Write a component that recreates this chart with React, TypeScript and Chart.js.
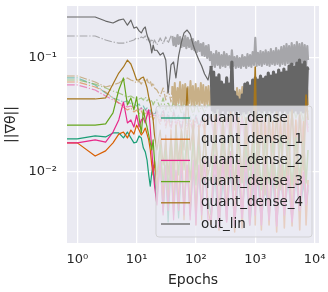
import React, { useEffect, useRef } from 'react';
import { Chart, registerables } from 'chart.js';

Chart.register(...registerables);

// ---------- epochs (x values) ----------
const EPOCHS_EARLY = [0, 1, 2, 3, 4, 5, 6, 7, 8, 9, 10, 11, 12, 13, 14, 15, 16, 17, 18, 19, 20];
const EPOCHS_MID = [22, 25, 28, 31, 34, 38, 42, 46, 51, 57, 63, 71, 80, 90, 100, 112, 125, 140, 160];
const EPOCHS_MID_HEAD = [22, 25, 28, 31, 34, 38];
const EPOCHS_MID_DENSE = [40, 42, 44, 46, 49, 51, 54, 57, 60, 63, 66, 69, 73, 77, 81, 85, 89, 94, 99, 104, 109, 115, 121, 127, 133, 140, 148, 155, 163, 172];
const EPOCHS_DENSE = [
  180, 189, 199, 209, 220, 232, 244, 256, 270, 284, 298, 314, 330, 347, 365, 384, 404, 425, 447, 470,
  494, 520, 547, 575, 605, 636, 669, 704, 740, 779, 819, 861, 906, 953, 1002, 1054, 1109, 1166, 1227, 1290,
  1357, 1427, 1501, 1579, 1661, 1747, 1837, 1932, 2032, 2137, 2248, 2365, 2487, 2616, 2751, 2894, 3044, 3201, 3367, 3542,
  3725, 3918, 4121, 4335, 4559, 4795, 5044, 5305, 5580, 5869, 6173, 6493, 6829, 7183, 7555, 7770,
];
const EPOCHS_SPARSE = [
  180, 210, 245, 285, 330, 385, 450, 520, 600, 700, 810, 940, 1000, 1090, 1270, 1470, 1710, 1980, 2300, 2670,
  3100, 3600, 4180, 4850, 5630, 6540, 7200, 7770,
];

// ---------- tick values ----------
const X_TICKS = [1, 10, 100, 1000, 10000];
const Y_TICKS = [0.01, 0.1];

// ---------- series names / colours ----------
const SERIES_NAMES = ['quant_dense', 'quant_dense_1', 'quant_dense_2', 'quant_dense_3', 'quant_dense_4', 'out_lin'];
const SERIES_COLORS = ['#1b9e77', '#d95f02', '#e7298a', '#66a61e', '#a6761d', '#666666'];
const SERIES_COLORS_DD = [
  'rgba(27,158,119,0.5)', 'rgba(217,95,2,0.5)', 'rgba(231,41,138,0.5)',
  'rgba(102,166,30,0.5)', 'rgba(166,118,29,0.5)', 'rgba(102,102,102,0.5)',
];
// the same half-transparent colours, flattened onto the axes background (used where the noise is dense)
const SERIES_COLORS_DD_FLAT = ['#83c4b4', '#e0a57a', '#e98ebe', '#a8c888', '#c8b088', '#a6a6aa'];

// ---------- out_lin (solid) ----------
const OUT_LIN_EARLY = [0.229, 0.229, 0.229, 0.211, 0.203, 0.215, 0.220, 0.194, 0.215, 0.183, 0.187, 0.173, 0.166, 0.180, 0.187, 0.159, 0.144, 0.133, 0.111, 0.130, 0.117];
const OUT_LIN_MID = [0.117, 0.106, 0.111, 0.096, 0.0493, 0.087, 0.0922, 0.0668, 0.104, 0.138, 0.166, 0.176, 0.162, 0.130, 0.111, 0.096, 0.0851, 0.0724, 0.0641];
const OUT_LIN_DENSE = [
  0.0851, 0.0350, 0.0754, 0.0336, 0.0668, 0.0364, 0.0710, 0.0330, 0.0616, 0.0350,
  0.0580, 0.0323, 0.0668, 0.0350, 0.0591, 0.0336, 0.0922, 0.0350, 0.0503, 0.0330,
  0.0455, 0.0350, 0.0428, 0.0323, 0.0473, 0.0343, 0.0591, 0.0330, 0.0604, 0.0350,
  0.0568, 0.0336, 0.0641, 0.0350, 0.0668, 0.0330, 0.0641, 0.0350, 0.0695, 0.0336,
  0.0654, 0.0350, 0.0681, 0.0330, 0.0738, 0.0350, 0.0695, 0.0336, 0.0754, 0.0350,
  0.0710, 0.0330, 0.0785, 0.0350, 0.0738, 0.0336, 0.0801, 0.0350, 0.0754, 0.0330,
  0.0851, 0.0350, 0.0886, 0.0336, 0.0834, 0.0350, 0.0900, 0.0330, 0.0960, 0.0350,
  0.0870, 0.0336, 0.0922, 0.0350, 0.0820, 0.0785,
];

// ---------- out_lin (dash-dot) ----------
const OUT_LIN_DD_EARLY = [0.156, 0.156, 0.156, 0.144, 0.138, 0.135, 0.135, 0.138, 0.141, 0.144, 0.150, 0.147, 0.153, 0.150, 0.156, 0.144, 0.150, 0.138, 0.147, 0.135, 0.144];
const OUT_LIN_DD_HEAD = [0.130, 0.150, 0.133, 0.153, 0.135, 0.156];
const OUT_LIN_DD_MID = [
  0.156, 0.130, 0.150, 0.1274, 0.159, 0.1327, 0.1528, 0.1249, 0.1467, 0.1274,
  0.156, 0.122, 0.150, 0.1249, 0.144, 0.1199, 0.1467, 0.117, 0.138, 0.1129,
  0.141, 0.1152, 0.1327, 0.106, 0.1354, 0.1041, 0.1274, 0.100, 0.130, 0.096,
];
const OUT_LIN_DD_DENSE = [
  0.1129, 0.0851, 0.1084, 0.0834, 0.1152, 0.0870, 0.1110, 0.0820, 0.1060, 0.0851,
  0.1129, 0.0834, 0.1084, 0.0870, 0.1041, 0.0820, 0.1170, 0.0851, 0.1020, 0.0820,
  0.1041, 0.0834, 0.1000, 0.0820, 0.1060, 0.0851, 0.1020, 0.0820, 0.1084, 0.0851,
  0.1060, 0.0834, 0.1129, 0.0870, 0.1500, 0.0851, 0.1110, 0.0870, 0.1152, 0.0851,
  0.1129, 0.0886, 0.1170, 0.0870, 0.1129, 0.0851, 0.1199, 0.0886, 0.1152, 0.0870,
  0.1220, 0.0886, 0.1170, 0.0851, 0.1249, 0.0886, 0.1274, 0.0870, 0.1327, 0.0900,
  0.1274, 0.0851, 0.1354, 0.0886, 0.1300, 0.0870, 0.1380, 0.0900, 0.1327, 0.0851,
  0.1354, 0.0886, 0.1300, 0.0851, 0.1274, 0.0960,
];

// ---------- quant_dense_4 (dash-dot) ----------
const QD4_DD_EARLY = [0.0695, 0.0695, 0.0616, 0.0557, 0.0580, 0.0604, 0.0641, 0.0668, 0.0641, 0.0628, 0.0604, 0.0628, 0.0591, 0.0641, 0.0616, 0.0654, 0.0591, 0.0628, 0.0568, 0.0604, 0.0546];
const QD4_DD_HEAD = [0.0524, 0.0464, 0.0546, 0.0428, 0.0535, 0.0411];
const QD4_DD_MID = [
  0.0568, 0.0395, 0.0604, 0.0379, 0.0546, 0.0403, 0.0616, 0.0372, 0.0580, 0.0395,
  0.0591, 0.0379, 0.0557, 0.0403, 0.0628, 0.0387, 0.0568, 0.0372, 0.0591, 0.0395,
  0.0546, 0.0379, 0.0604, 0.0403, 0.0580, 0.0372, 0.0557, 0.0395, 0.0568, 0.0387,
];
const QD4_DD_DENSE = [
  0.0524, 0.0387, 0.0546, 0.0372, 0.0503, 0.0395, 0.0535, 0.0364, 0.0557, 0.0379,
  0.0513, 0.0403, 0.0524, 0.0372, 0.0568, 0.0387, 0.0535, 0.0364, 0.0503, 0.0395,
  0.0546, 0.0379, 0.0524, 0.0372, 0.0557, 0.0387, 0.0513, 0.0403, 0.0535, 0.0364,
  0.0546, 0.0379, 0.0524, 0.0395, 0.0568, 0.0372, 0.0503, 0.0387, 0.0535, 0.0379,
  0.0557, 0.0364, 0.0524, 0.0395, 0.0546, 0.0372, 0.0513, 0.0387, 0.0535, 0.0403,
  0.0557, 0.0379, 0.0524, 0.0364, 0.0546, 0.0372, 0.0568, 0.0395, 0.0535, 0.0379,
  0.0513, 0.0387, 0.0546, 0.0364, 0.0524, 0.0379, 0.0557, 0.0395, 0.0535, 0.0372,
  0.0546, 0.0387, 0.0568, 0.0379, 0.0524, 0.0387,
];

// ---------- quant_dense (solid) ----------
const QD0_EARLY = [0.0195, 0.0195, 0.0207, 0.0203, 0.0220, 0.0220, 0.0199, 0.0224, 0.0199, 0.0180, 0.0183, 0.0207, 0.0199, 0.0162, 0.0150, 0.0127, 0.0094, 0.0075, 0.0098, 0.0115, 0.0085];
const QD0_MID = [0.0057, 0.0122, 0.00446, 0.0104, 0.00364, 0.0115, 0.0046, 0.0100, 0.00395, 0.0108, 0.00514, 0.0115, 0.0042, 0.0104, 0.00514, 0.0094, 0.0046, 0.00886, 0.0057];
const QD0_LATE = [0.0042, 0.0094, 0.00343, 0.0085, 0.0046, 0.0104, 0.0038, 0.00886, 0.00446, 0.0100, 0.00343, 0.0085, 0.00514, 0.0094, 0.0038, 0.00817, 0.0042, 0.00886, 0.00364, 0.0094, 0.0046, 0.0085, 0.00395, 0.00922, 0.00446, 0.00817, 0.00514, 0.0070];

// ---------- quant_dense_1 (solid) ----------
const QD1_EARLY = [0.0180, 0.0180, 0.0138, 0.0153, 0.0180, 0.0215, 0.0224, 0.0199, 0.0233, 0.0215, 0.0258, 0.0233, 0.0211, 0.0224, 0.0243, 0.0215, 0.0191, 0.0156, 0.0115, 0.0094, 0.0127];
const QD1_MID = [0.0070, 0.0191, 0.0057, 0.0211, 0.00514, 0.0233, 0.0042, 0.0258, 0.0046, 0.0211, 0.0038, 0.0233, 0.0042, 0.0286, 0.00343, 0.0258, 0.0038, 0.0298, 0.0046];
const QD1_LATE = [0.00343, 0.0316, 0.0031, 0.0286, 0.0038, 0.0336, 0.00298, 0.0298, 0.00323, 0.0258, 0.00364, 0.0316, 0.00343, 0.0286, 0.0031, 0.0304, 0.00343, 0.0275, 0.00298, 0.0298, 0.00323, 0.0316, 0.00336, 0.0286, 0.0031, 0.0275, 0.00343, 0.0085];

// ---------- quant_dense_2 (solid) ----------
const QD2_EARLY = [0.0180, 0.0180, 0.0191, 0.0183, 0.0224, 0.0286, 0.0411, 0.0269, 0.0286, 0.0248, 0.0316, 0.0248, 0.0286, 0.0298, 0.0269, 0.0316, 0.0350, 0.0243, 0.0156, 0.0104, 0.00769];
const QD2_MID = [0.00514, 0.0127, 0.0042, 0.0115, 0.0046, 0.0127, 0.0038, 0.0104, 0.0046, 0.0127, 0.0042, 0.0115, 0.0038, 0.0127, 0.00343, 0.0115, 0.0042, 0.0127, 0.0038];
const QD2_LATE = [0.0038, 0.0141, 0.00323, 0.0133, 0.00364, 0.0150, 0.00336, 0.0127, 0.00395, 0.0141, 0.00343, 0.0127, 0.0042, 0.0141, 0.00343, 0.0133, 0.0038, 0.0122, 0.00336, 0.0115, 0.0042, 0.0104, 0.00364, 0.0108, 0.0046, 0.0100, 0.00514, 0.00769];

// ---------- quant_dense_3 (solid) ----------
const QD3_EARLY = [0.0258, 0.0258, 0.0258, 0.0264, 0.0330, 0.0524, 0.0668, 0.0387, 0.0446, 0.0350, 0.0455, 0.0298, 0.0220, 0.0350, 0.0286, 0.0248, 0.0211, 0.0180, 0.0156, 0.0191, 0.0127];
const QD3_MID = [0.0094, 0.0173, 0.00769, 0.0156, 0.0070, 0.0191, 0.0085, 0.0211, 0.0094, 0.0233, 0.0104, 0.0211, 0.0085, 0.0191, 0.00769, 0.0173, 0.0094, 0.0211, 0.0085];
const QD3_LATE = [0.0085, 0.0211, 0.00769, 0.0191, 0.00886, 0.0224, 0.0070, 0.0199, 0.00801, 0.0173, 0.00724, 0.0211, 0.0094, 0.0191, 0.0070, 0.0203, 0.00801, 0.0183, 0.00724, 0.0211, 0.0085, 0.0191, 0.00769, 0.0199, 0.00886, 0.0183, 0.00801, 0.0156];

// ---------- quant_dense_4 (solid) ----------
const QD4_EARLY = [0.0437, 0.0437, 0.0437, 0.0446, 0.0591, 0.0738, 0.0834, 0.0960, 0.0886, 0.0754, 0.0641, 0.0641, 0.0668, 0.0681, 0.0616, 0.0546, 0.0455, 0.0403, 0.0336, 0.0286, 0.0211];
const QD4_MID = [0.0156, 0.0233, 0.0115, 0.0191, 0.0094, 0.0211, 0.0104, 0.0258, 0.0127, 0.0233, 0.0156, 0.0546, 0.0156, 0.0258, 0.0104, 0.0233, 0.0085, 0.0211, 0.0094];
const QD4_LATE = [0.0127, 0.0258, 0.00769, 0.0286, 0.0094, 0.0316, 0.0070, 0.0258, 0.0085, 0.0298, 0.0104, 0.0233, 0.0834, 0.00769, 0.0286, 0.00628, 0.0316, 0.0085, 0.0336, 0.0070, 0.0298, 0.0094, 0.0350, 0.00769, 0.0316, 0.0104, 0.0473, 0.0286];

// ---------- quant_dense (dash-dot) ----------
const QD0_DD_EARLY = [0.0668, 0.0668, 0.0580, 0.0493, 0.0446, 0.0428, 0.0411, 0.0420, 0.0395, 0.0403, 0.0379, 0.0395, 0.0364, 0.0379, 0.0350, 0.0364, 0.0336, 0.0350, 0.0323, 0.0336, 0.0316];
const QD0_DD_MID = [0.0350, 0.0298, 0.0364, 0.0275, 0.0336, 0.0258, 0.0350, 0.0286, 0.0316, 0.0243, 0.0336, 0.0264, 0.0310, 0.0233, 0.0323, 0.0253, 0.0298, 0.0243, 0.0286];
const QD0_DD_LATE = [0.0316, 0.0211, 0.0336, 0.0199, 0.0298, 0.0224, 0.0323, 0.0191, 0.0310, 0.0207, 0.0330, 0.0215, 0.0304, 0.0199, 0.0316, 0.0220, 0.0292, 0.0191, 0.0323, 0.0207, 0.0298, 0.0224, 0.0310, 0.0195, 0.0330, 0.0211, 0.0304, 0.0258];

// ---------- quant_dense_1 (dash-dot) ----------
const QD1_DD_EARLY = [0.0616, 0.0616, 0.0557, 0.0503, 0.0446, 0.0403, 0.0372, 0.0350, 0.0364, 0.0336, 0.0350, 0.0323, 0.0343, 0.0316, 0.0336, 0.0310, 0.0330, 0.0298, 0.0316, 0.0286, 0.0304];
const QD1_DD_MID = [0.0316, 0.0258, 0.0336, 0.0243, 0.0298, 0.0233, 0.0323, 0.0248, 0.0286, 0.0224, 0.0310, 0.0238, 0.0280, 0.0215, 0.0298, 0.0233, 0.0275, 0.0229, 0.0286];
const QD1_DD_LATE = [0.0316, 0.0191, 0.0336, 0.0173, 0.0298, 0.0199, 0.0323, 0.0183, 0.0310, 0.0169, 0.0330, 0.0195, 0.0304, 0.0180, 0.0316, 0.0203, 0.0292, 0.0176, 0.0323, 0.0191, 0.0298, 0.0207, 0.0310, 0.0183, 0.0330, 0.0195, 0.0304, 0.0243];

// ---------- quant_dense_2 (dash-dot) ----------
const QD2_DD_EARLY = [0.0580, 0.0580, 0.0524, 0.0464, 0.0428, 0.0403, 0.0387, 0.0372, 0.0379, 0.0364, 0.0372, 0.0350, 0.0364, 0.0343, 0.0357, 0.0330, 0.0350, 0.0316, 0.0336, 0.0304, 0.0323];
const QD2_DD_MID = [0.0336, 0.0275, 0.0350, 0.0258, 0.0316, 0.0243, 0.0336, 0.0264, 0.0298, 0.0233, 0.0323, 0.0253, 0.0292, 0.0224, 0.0310, 0.0243, 0.0286, 0.0233, 0.0298];
const QD2_DD_LATE = [0.0298, 0.0173, 0.0316, 0.0156, 0.0286, 0.0183, 0.0310, 0.0162, 0.0292, 0.0150, 0.0323, 0.0176, 0.0280, 0.0166, 0.0304, 0.0187, 0.0286, 0.0156, 0.0310, 0.0173, 0.0292, 0.0191, 0.0304, 0.0162, 0.0316, 0.0180, 0.0298, 0.0224];

// ---------- quant_dense_3 (dash-dot) ----------
const QD3_DD_EARLY = [0.0641, 0.0641, 0.0591, 0.0546, 0.0513, 0.0493, 0.0473, 0.0455, 0.0464, 0.0446, 0.0455, 0.0437, 0.0446, 0.0428, 0.0455, 0.0420, 0.0437, 0.0403, 0.0428, 0.0387, 0.0411];
const QD3_DD_MID = [0.0428, 0.0364, 0.0446, 0.0350, 0.0411, 0.0336, 0.0428, 0.0357, 0.0395, 0.0323, 0.0420, 0.0350, 0.0387, 0.0316, 0.0403, 0.0336, 0.0379, 0.0330, 0.0387];
const QD3_DD_LATE = [0.0387, 0.0286, 0.0403, 0.0264, 0.0372, 0.0298, 0.0395, 0.0275, 0.0379, 0.0258, 0.0403, 0.0292, 0.0364, 0.0269, 0.0387, 0.0280, 0.0395, 0.0253, 0.0372, 0.0286, 0.0387, 0.0264, 0.0403, 0.0298, 0.0379, 0.0275, 0.0395, 0.0336];

// ---------- helpers ----------
const FONT = 'DejaVu Sans';
const TEXT_COLOR = '#262626';
const DASH_DOT = [7.7, 1.9, 1.2, 1.9];
const SUP: Record<string, string> = { '-': '\u207B', '0': '\u2070', '1': '\u00B9', '2': '\u00B2', '3': '\u00B3', '4': '\u2074', '5': '\u2075', '6': '\u2076', '7': '\u2077', '8': '\u2078', '9': '\u2079' };
const fmtPow = (v: number) => '10' + String(Math.round(Math.log10(v))).split('').map((c) => SUP[c]).join('');

const pts = (xs: number[], ys: number[]) => xs.map((x, i) => ({ x, y: ys[i] }));

const line = (
  label: string, color: string, xs: number[], ys: number[], order: number,
  dashed: boolean, denseFrom: number, denseWidth: number, denseColor?: string,
) => ({
  label,
  data: pts(xs, ys),
  borderColor: color,
  backgroundColor: color,
  borderWidth: 1.2,
  borderDash: dashed ? DASH_DOT : [],
  borderJoinStyle: 'round' as const,
  pointRadius: 0,
  tension: 0,
  fill: false,
  order,
  segment: {
    borderWidth: (c: any) => (c.p0.parsed.x >= denseFrom ? denseWidth : undefined),
    borderDash: (c: any) => (c.p0.parsed.x >= denseFrom ? [] : undefined),
    borderColor: (c: any) => (denseColor && c.p0.parsed.x >= denseFrom ? denseColor : undefined),
  },
});

const XS_DENSE = [...EPOCHS_EARLY, ...EPOCHS_MID, ...EPOCHS_DENSE];
const XS_SPARSE = [...EPOCHS_EARLY, ...EPOCHS_MID, ...EPOCHS_SPARSE];
const XS_BAND = [...EPOCHS_EARLY, ...EPOCHS_MID_HEAD, ...EPOCHS_MID_DENSE, ...EPOCHS_DENSE];

const bgPlugin = {
  id: 'bg',
  beforeDraw(chart: any) {
    const { ctx, chartArea: a, width, height } = chart;
    ctx.save();
    ctx.fillStyle = '#ffffff';
    ctx.fillRect(0, 0, width, height);
    ctx.fillStyle = '#EAEAF2';
    ctx.fillRect(a.left, a.top, a.right - a.left, a.bottom - a.top);
    ctx.restore();
  },
};

const legendPlugin = {
  id: 'boxLegend',
  afterDatasetsDraw(chart: any) {
    const { ctx, chartArea: a } = chart;
    const w = 156;
    const h = 131;
    const x0 = a.right - 7 - w;
    const y0 = a.bottom - 6 - h;
    const r = 3;
    ctx.save();
    ctx.beginPath();
    ctx.moveTo(x0 + r, y0);
    ctx.lineTo(x0 + w - r, y0);
    ctx.arcTo(x0 + w, y0, x0 + w, y0 + r, r);
    ctx.lineTo(x0 + w, y0 + h - r);
    ctx.arcTo(x0 + w, y0 + h, x0 + w - r, y0 + h, r);
    ctx.lineTo(x0 + r, y0 + h);
    ctx.arcTo(x0, y0 + h, x0, y0 + h - r, r);
    ctx.lineTo(x0, y0 + r);
    ctx.arcTo(x0, y0, x0 + r, y0, r);
    ctx.closePath();
    ctx.fillStyle = 'rgba(234,234,242,0.8)';
    ctx.fill();
    ctx.strokeStyle = 'rgba(204,204,204,0.8)';
    ctx.lineWidth = 1;
    ctx.stroke();
    ctx.font = `13.5px "${FONT}"`;
    ctx.textBaseline = 'middle';
    ctx.textAlign = 'left';
    SERIES_NAMES.forEach((name, i) => {
      const cy = y0 + 12 + i * 21.2;
      ctx.beginPath();
      ctx.moveTo(x0 + 5, cy);
      ctx.lineTo(x0 + 34, cy);
      ctx.strokeStyle = SERIES_COLORS[i];
      ctx.lineWidth = 1.3;
      ctx.stroke();
      ctx.fillStyle = TEXT_COLOR;
      ctx.fillText(name, x0 + 45, cy);
    });
    ctx.restore();
  },
};

export default function App() {
  const ref = useRef<HTMLCanvasElement>(null);

  useEffect(() => {
    const datasets = [
      line(SERIES_NAMES[4], SERIES_COLORS[4], XS_SPARSE, [...QD4_EARLY, ...QD4_MID, ...QD4_LATE], 0, false, 170, 1.6),
      line(SERIES_NAMES[3], SERIES_COLORS[3], XS_SPARSE, [...QD3_EARLY, ...QD3_MID, ...QD3_LATE], 1, false, 170, 1.6),
      line(SERIES_NAMES[2], SERIES_COLORS[2], XS_SPARSE, [...QD2_EARLY, ...QD2_MID, ...QD2_LATE], 2, false, 170, 1.6),
      line(SERIES_NAMES[1], SERIES_COLORS[1], XS_SPARSE, [...QD1_EARLY, ...QD1_MID, ...QD1_LATE], 3, false, 170, 1.6),
      line(SERIES_NAMES[0], SERIES_COLORS[0], XS_SPARSE, [...QD0_EARLY, ...QD0_MID, ...QD0_LATE], 4, false, 170, 1.6),
      line(SERIES_NAMES[5], SERIES_COLORS[5], XS_DENSE, [...OUT_LIN_EARLY, ...OUT_LIN_MID, ...OUT_LIN_DENSE], 5, false, 170, 3.2),
      line(SERIES_NAMES[5] + ' (dd)', SERIES_COLORS_DD[5], XS_BAND, [...OUT_LIN_DD_EARLY, ...OUT_LIN_DD_HEAD, ...OUT_LIN_DD_MID, ...OUT_LIN_DD_DENSE], 6, true, 39, 2.2, SERIES_COLORS_DD_FLAT[5]),
      line(SERIES_NAMES[4] + ' (dd)', SERIES_COLORS_DD[4], XS_BAND, [...QD4_DD_EARLY, ...QD4_DD_HEAD, ...QD4_DD_MID, ...QD4_DD_DENSE], 7, true, 39, 2.0, SERIES_COLORS_DD_FLAT[4]),
      line(SERIES_NAMES[3] + ' (dd)', SERIES_COLORS_DD[3], XS_SPARSE, [...QD3_DD_EARLY, ...QD3_DD_MID, ...QD3_DD_LATE], 8, true, 170, 1.4, SERIES_COLORS_DD_FLAT[3]),
      line(SERIES_NAMES[2] + ' (dd)', SERIES_COLORS_DD[2], XS_SPARSE, [...QD2_DD_EARLY, ...QD2_DD_MID, ...QD2_DD_LATE], 9, true, 170, 1.4, SERIES_COLORS_DD_FLAT[2]),
      line(SERIES_NAMES[1] + ' (dd)', SERIES_COLORS_DD[1], XS_SPARSE, [...QD1_DD_EARLY, ...QD1_DD_MID, ...QD1_DD_LATE], 10, true, 170, 1.4, SERIES_COLORS_DD_FLAT[1]),
      line(SERIES_NAMES[0] + ' (dd)', SERIES_COLORS_DD[0], XS_SPARSE, [...QD0_DD_EARLY, ...QD0_DD_MID, ...QD0_DD_LATE], 11, true, 170, 1.4, SERIES_COLORS_DD_FLAT[0]),
    ];

    const zeroPad = (s: any) => {
      s.paddingTop = 0;
      s.paddingBottom = 0;
      s.paddingLeft = 0;
      s.paddingRight = 0;
    };

    const chart = new Chart(ref.current as HTMLCanvasElement, {
      type: 'line',
      data: { datasets: datasets as any },
      options: {
        animation: false,
        responsive: false,
        maintainAspectRatio: false,
        devicePixelRatio: 1,
        events: [],
        layout: { padding: { top: 6, right: 9, left: 0, bottom: 0 } },
        plugins: {
          legend: { display: false },
          tooltip: { enabled: false },
          title: { display: false },
        },
        scales: {
          x: {
            type: 'logarithmic',
            min: 0.67,
            max: 11900,
            afterBuildTicks: (s: any) => {
              s.ticks = X_TICKS.map((v) => ({ value: v }));
            },
            afterFit: (s: any) => {
              s.height = 49;
              zeroPad(s);
            },
            grid: { color: '#ffffff', lineWidth: 1.25, drawTicks: false },
            border: { display: false },
            ticks: {
              color: TEXT_COLOR,
              font: { family: FONT, size: 13 },
              padding: 9,
              autoSkip: false,
              maxRotation: 0,
              callback: (v: any) => fmtPow(Number(v)),
            },
            title: {
              display: true,
              text: 'Epochs',
              color: TEXT_COLOR,
              font: { family: FONT, size: 14 },
              padding: { top: 0, bottom: 3.6 },
            },
          },
          y: {
            type: 'logarithmic',
            min: 0.00238,
            max: 0.286,
            afterBuildTicks: (s: any) => {
              s.ticks = Y_TICKS.map((v) => ({ value: v }));
            },
            afterFit: (s: any) => {
              s.width = 67;
              zeroPad(s);
            },
            grid: { color: '#ffffff', lineWidth: 1.25, drawTicks: false },
            border: { display: false },
            ticks: {
              color: TEXT_COLOR,
              font: { family: FONT, size: 13 },
              padding: 10,
              autoSkip: false,
              callback: (v: any) => fmtPow(Number(v)),
            },
            title: {
              display: true,
              text: '||\u2207\u03B8||',
              color: TEXT_COLOR,
              font: { family: FONT, size: 14 },
              padding: { top: 3, bottom: 0 },
            },
          },
        },
      },
      plugins: [bgPlugin, legendPlugin],
    });
    return () => chart.destroy();
  }, []);

  return (
    <div style={{ position: 'fixed', left: 0, top: 0, width: 328, height: 292, background: '#ffffff' }}>
      <canvas ref={ref} width={328} height={292} style={{ display: 'block', width: 328, height: 292 }} />
    </div>
  );
}
